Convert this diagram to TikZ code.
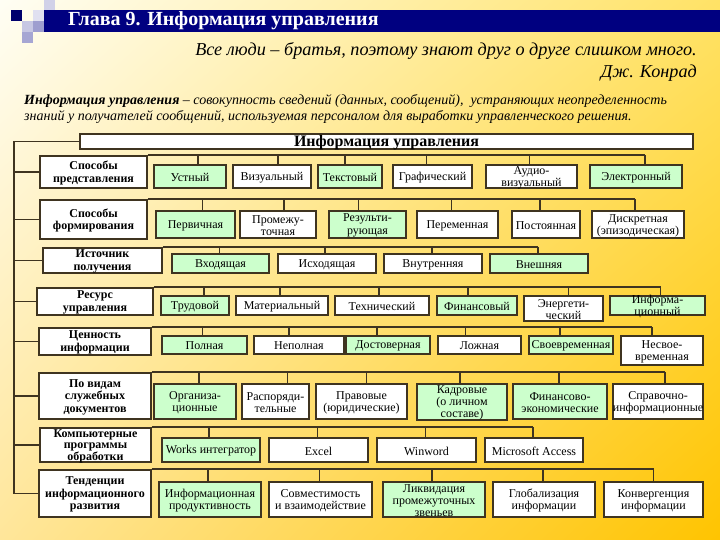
\documentclass[tikz,border=0pt]{standalone}
\usepackage{fontspec}
\setmainfont{Liberation Serif}
\usetikzlibrary{shadings}
\definecolor{bd}{HTML}{3F3420}
\definecolor{gr}{HTML}{CCFFCC}
\definecolor{navy}{HTML}{000080}
\definecolor{bgul}{HTML}{FFFEF4}
\definecolor{bgur}{HTML}{FFE266}
\definecolor{bgll}{HTML}{FFE69A}
\definecolor{bglr}{HTML}{FFC400}
\tikzset{
 box/.style={draw=bd, line width=1.5pt, fill=white, inner sep=0pt},
 gbox/.style={box, fill=gr},
 lbl/.style={inner sep=0pt, align=center, font=\fontsize{12}{12.3}\selectfont},
 catf/.style={font=\fontsize{12}{12.6}\selectfont\bfseries},
 wire/.style={draw=bd, line width=1.7pt},
 txt/.style={inner sep=0pt},
}
% name, x1, y1, x2, y2, box style, label style, text
\newcommand\bx[8]{\node[#6, minimum width={(#4-#2)*1pt}, minimum height={(#5-#3)*1pt}] (#1) at ({(#2+#4)/2},{(#3+#5)/2}) {};
 \node[lbl, #7] (#1t) at ([yshift=-1pt]#1.center) {#8};}
\newcommand\drp[3]{\coordinate (#2d) at ([xshift=#3pt]#2.north); \draw[wire] (#2d) -- (#2d |- #1.north);}
\begin{document}
\begin{tikzpicture}[x=1pt,y=-1pt]
\useasboundingbox (0,0) rectangle (720,540);
\shade[upper left=bgul, upper right=bgur, lower left=bgll, lower right=bglr] (0,0) rectangle (720,540);
% decoration squares
\fill[navy!85!black] (11,10) rectangle (22,21);
\fill[navy!12] (33,10) rectangle (44,21);
\fill[navy!18] (44,0) rectangle (55,10);
\fill[navy!22] (22,21) rectangle (33,32);
\fill[navy!38] (33,21) rectangle (44,32);
\fill[navy!35] (22,32) rectangle (33,43);
\fill[navy] (44,10) rectangle (720,32);
\node[txt, anchor=west, text=white, font=\fontsize{20}{21}\selectfont\bfseries] (hd) at (68,21) {Глава 9. Информация управления};
% quote
\node[txt, anchor=east, font=\fontsize{18.2}{19}\selectfont\itshape] (q1) at (697,51) {Все люди – братья, поэтому знают друг о друге слишком много.};
\node[txt, anchor=east, font=\fontsize{18.2}{19}\selectfont\itshape] (q2) at (697,73) {Дж. Конрад};
\node[txt, anchor=west, font=\fontsize{14}{15}\selectfont\itshape] (df1) at (24,101) {\textbf{Информация управления} – совокупность сведений (данных, сообщений),\ \ устраняющих неопределенность};
\node[txt, anchor=west, font=\fontsize{14}{15}\selectfont\itshape] (df2) at (24,117) {знаний у получателей сообщений, используемая персоналом для выработки управленческого решения.};
% title
\bx{t}{80}{134}{693}{149}{box}{font=\fontsize{16}{17}\selectfont\bfseries}{Информация управления}
% row 1
\bx{c1}{40}{156}{147}{188}{box}{catf}{Способы\\представления}
\bx{a1}{154}{165}{226}{188}{gbox}{}{Устный}
\bx{a2}{233}{165}{311}{188}{box}{}{Визуальный}
\bx{a3}{318}{165}{382}{188}{gbox}{}{Текстовый}
\bx{a4}{393}{165}{472}{188}{box}{}{Графический}
\bx{a5}{486}{165}{577}{188}{box}{}{Аудио-\\визуальный}
\bx{a6}{590}{165}{682}{188}{gbox}{}{Электронный}
% row 2
\bx{c2}{40}{200}{147}{239}{box}{catf}{Способы\\формирования}
\bx{b1}{156}{211}{235}{238}{gbox}{}{Первичная}
\bx{b2}{240}{211}{316}{238}{box}{}{Промежу-\\точная}
\bx{b3}{329}{211}{406}{238}{gbox}{}{Результи-\\рующая}
\bx{b4}{417}{211}{498}{238}{box}{}{Переменная}
\bx{b5}{512}{211}{580}{238}{box}{}{Постоянная}
\bx{b6}{592}{211}{684}{238}{box}{}{Дискретная\\(эпизодическая)}
% row 3
\bx{c3}{43}{248}{162}{273}{box}{catf}{Источник\\получения}
\bx{d1}{172}{254}{269}{273}{gbox}{}{Входящая}
\bx{d2}{278}{254}{376}{273}{box}{}{Исходящая}
\bx{d3}{384}{254}{482}{273}{box}{}{Внутренняя}
\bx{d4}{490}{254}{588}{273}{gbox}{}{Внешняя}
% row 4
\bx{c4}{37}{288}{153}{315}{box}{catf}{Ресурс\\управления}
\bx{e1}{161}{296}{229}{315}{gbox}{}{Трудовой}
\bx{e2}{236}{296}{328}{315}{box}{}{Материальный}
\bx{e3}{335}{296}{429}{315}{box}{}{Технический}
\bx{e4}{437}{296}{517}{315}{gbox}{}{Финансовый}
\bx{e5}{524}{296}{603}{321}{box}{}{Энергети-\\ческий}
\bx{e6}{610}{296}{705}{315}{gbox}{}{Информа-\\ционный}
% row 5
\bx{c5}{39}{328}{151}{355}{box}{catf}{Ценность\\информации}
\bx{f1}{162}{336}{247}{354}{gbox}{}{Полная}
\bx{f2}{254}{336}{344}{354}{box}{}{Неполная}
\bx{f3}{346}{336}{430}{354}{gbox}{}{Достоверная}
\bx{f4}{438}{336}{521}{354}{box}{}{Ложная}
\bx{f5}{529}{336}{613}{354}{gbox}{}{Своевременная}
\bx{f6}{621}{336}{703}{365}{box}{}{Несвое-\\временная}
% row 6
\bx{c6}{39}{373}{151}{419}{box}{catf}{По видам\\служебных\\документов}
\bx{g1}{154}{384}{236}{419}{gbox}{}{Организа-\\ционные}
\bx{g2}{242}{384}{309}{419}{box}{}{Распоряди-\\тельные}
\bx{g3}{316}{384}{407}{419}{box}{}{Правовые\\(юридические)}
\bx{g4}{417}{384}{507}{420}{gbox}{font=\fontsize{12}{11.8}\selectfont}{Кадровые\\(о личном\\составе)}
\bx{g5}{513}{384}{607}{419}{gbox}{}{Финансово-\\экономические}
\bx{g6}{613}{384}{703}{419}{box}{}{Справочно-\\информационные}
% row 7
\bx{c7}{40}{428}{151}{462}{box}{font=\fontsize{12}{11.5}\selectfont\bfseries}{Компьютерные\\программы\\обработки}
\bx{h1}{162}{438}{260}{462}{gbox}{}{Works интегратор}
\bx{h2}{269}{438}{368}{462}{box}{}{Excel}
\bx{h3}{377}{438}{476}{462}{box}{}{Winword}
\bx{h4}{485}{438}{583}{462}{box}{}{Microsoft Access}
% row 8
\bx{c8}{39}{470}{151}{517}{box}{catf}{Тенденции\\информационного\\развития}
\bx{i1}{159}{482}{261}{517}{gbox}{}{Информационная\\продуктивность}
\bx{i2}{269}{482}{372}{517}{box}{}{Совместимость\\и взаимодействие}
\bx{i3}{383}{482}{485}{517}{gbox}{font=\fontsize{12}{11.8}\selectfont}{Ликвидация\\промежуточных\\звеньев}
\bx{i4}{493}{482}{595}{517}{box}{}{Глобализация\\информации}
\bx{i5}{604}{482}{703}{517}{box}{}{Конвергенция\\информации}
% spine
\coordinate (L) at (14,0);
\draw[wire] (t.west) -- (t.west -| L) -- (c8.west -| L) -- (c8.west);
\foreach \c in {c1,c2,c3,c4,c5,c6,c7} {\draw[wire] (\c.west -| L) -- (\c.west);}
% drops and buses
\drp{c1}{a1}{8}\drp{c1}{a2}{6}\drp{c1}{a3}{-5}\drp{c1}{a4}{-6}\drp{c1}{a5}{-2}\drp{c1}{a6}{9}
\draw[wire] (c1.north east) -- (a6d |- c1.north);
\drp{c2}{b1}{7}\drp{c2}{b2}{6}\drp{c2}{b3}{-9}\drp{c2}{b4}{-6}\drp{c2}{b5}{-6}\drp{c2}{b6}{-3}
\draw[wire] (c2.north east) -- (b6d |- c2.north);
\drp{c3}{d1}{-1}\drp{c3}{d2}{-2}\drp{c3}{d3}{-1}\drp{c3}{d4}{-1}
\draw[wire] (c3.north east) -- (d4d |- c3.north);
\drp{c4}{e1}{9}\drp{c4}{e2}{-2}\drp{c4}{e3}{-3}\drp{c4}{e4}{-9}\drp{c4}{e5}{5}\drp{c4}{e6}{3}
\draw[wire] (c4.north east) -- (e6d |- c4.north);
\drp{c5}{f1}{-2}\drp{c5}{f2}{-10}\drp{c5}{f3}{-11}\drp{c5}{f4}{-14}\drp{c5}{f5}{-11}\drp{c5}{f6}{-10}
\draw[wire] (c5.north east) -- (f6d |- c5.north);
\drp{c6}{g1}{4}\drp{c6}{g2}{12}\drp{c6}{g3}{5}\drp{c6}{g4}{-2}\drp{c6}{g5}{-1}\drp{c6}{g6}{7}
\draw[wire] (c6.north east) -- (g6d |- c6.north);
\drp{c7}{h1}{-2}\drp{c7}{h2}{-1}\drp{c7}{h3}{-1}\drp{c7}{h4}{-1}
\draw[wire] (c7.north east) -- (h4d |- c7.north);
\drp{c8}{i1}{-2}\drp{c8}{i2}{-1}\drp{c8}{i3}{-2}\drp{c8}{i4}{-1}\drp{c8}{i5}{0}
\draw[wire] (c8.north east) -- (i5d |- c8.north);
\end{tikzpicture}
\end{document}
